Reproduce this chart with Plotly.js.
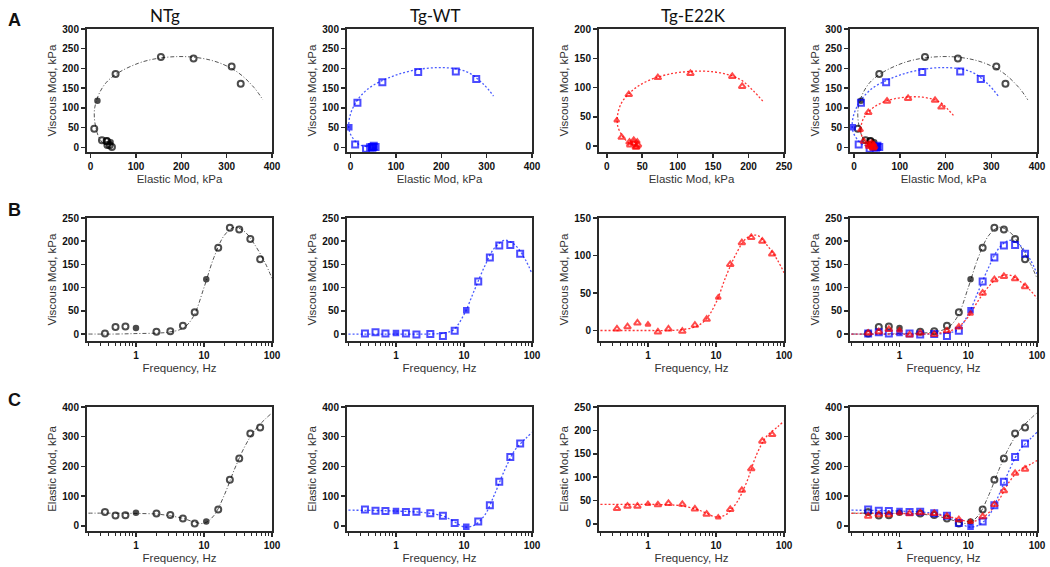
<!DOCTYPE html>
<html><head><meta charset="utf-8">
<script src="https://cdn.plot.ly/plotly-3.0.1.min.js"></script>
<style>html,body{margin:0;padding:0;background:#fff}#chart{width:1050px;height:567px}</style>
</head><body><div id="chart"></div>
<script>
// ---- data ----
const freq = [0.35, 0.5, 0.7, 1, 1.4, 2, 3.2, 4.9, 7.3, 10.8, 16.2, 24, 33, 48, 67];
const filledFreq = [1, 10.8];
const ntgVisc  = [1, 15, 16, 13, null, 5, 6, 18, 47, 118, 186, 229, 225, 205, 161];
const ntgElas  = [47, 35, 36, 44, null, 42, 37, 25, 8, 15, 55, 155, 227, 311, 331];
const wtVisc   = [1, 4, 1, 2, 1, -1, 0, -4, 7, 51, 113, 165, 191, 192, 173];
const wtElas   = [55, 51, 50, 50, 47, 48, 43, 34, 10, -3, 15, 70, 149, 232, 277];
const e22kVisc = [2, 5, 10, 8, -2, 2, -1, 7, 15, 44, 88, 117, 124, 119, 102];
const e22kElas = [33, 38, 38, 43, 41, 44, 42, 32, 21, 14, 31, 72, 118, 177, 191];

// fitted curves
const fitFreq   = [0.2, 0.5, 1, 2, 3, 5, 7, 10, 14, 20, 28, 40, 56, 80, 100];
const ntgFitV   = [0, 0, 1, 2, 4, 13, 38, 100, 165, 213, 230, 220, 192, 152, 120];
const ntgFitE   = [43, 43, 42, 40, 35, 25, 14, 9, 35, 105, 190, 268, 322, 360, 380];
const wtFitV    = [0, 0, 0, 0, 0, 2, 9, 42, 92, 145, 185, 202, 192, 160, 130];
const wtFitE    = [53, 52, 50, 47, 43, 33, 16, -3, 2, 35, 105, 190, 255, 293, 315];
const e22kFitV  = [0, 0, 0, 0, 1, 5, 14, 37, 72, 103, 123, 127, 114, 94, 77];
const e22kFitE  = [42, 42, 42, 41, 39, 32, 24, 15, 20, 45, 88, 150, 188, 207, 220];

const groupNames = ['NTg', 'Tg-WT', 'Tg-E22K'];
const rowLetters = ['A', 'B', 'C'];

// ---- styles ----
const groups = [
  {name:'NTg', visc:ntgVisc, elas:ntgElas, fv:ntgFitV, fe:ntgFitE, color:'#000000', lcolor:'#555555', sym:'circle', dash:'4px,2px,1px,2px', lw:1},
  {name:'Tg-WT', visc:wtVisc, elas:wtElas, fv:wtFitV, fe:wtFitE, color:'#0000ff', lcolor:'#4a5cff', sym:'square', dash:'2px,2px', lw:1.3},
  {name:'Tg-E22K', visc:e22kVisc, elas:e22kElas, fv:e22kFitV, fe:e22kFitE, color:'#ff0000', lcolor:'#ff3535', sym:'triangle-up', dash:'2px,2px', lw:1.3}
];

const colX = [[87,272],[347,532],[599,784],[850,1037]];
const rowY = [[29,152],[218,341],[407,531]];
const W = 1050, H = 567;

const traces = [];
const layout = {
  width: W, height: H, margin:{l:0,r:0,t:0,b:0},
  paper_bgcolor:'#fff', plot_bgcolor:'#fff', showlegend:false,
  annotations: [], font:{family:'Liberation Sans, Arial, sans-serif', color:'#222'}
};

const tickFont = {family:'Liberation Sans, Arial, sans-serif', size:10, weight:700, color:'#111'};
const titleFont = {family:'Liberation Sans, Arial, sans-serif', size:11.5, color:'#333'};

function axBase(){
  return {showline:true, linecolor:'#2a2a2a', linewidth:2, mirror:true, ticks:'outside', ticklen:4,
    tickwidth:1.5, tickcolor:'#2a2a2a', showgrid:false, zeroline:false, tickfont:tickFont, automargin:false, fixedrange:true};
}

function markerFor(g, xs){
  return {
    symbol: xs.map(f => filledFreq.includes(f) ? g.sym : g.sym + '-open'),
    size: xs.map(f => filledFreq.includes(f) ? 4.5 : 6),
    color: g.color,
    line: {color: g.color, width: 2}
  };
}

for (let r = 0; r < 3; r++) {
  for (let c = 0; c < 4; c++) {
    const n = r*4 + c + 1;
    const xa = 'x' + (n===1?'':n), ya = 'y' + (n===1?'':n);
    const xk = 'xaxis' + (n===1?'':n), yk = 'yaxis' + (n===1?'':n);
    const gs = c < 3 ? [groups[c]] : groups;
    const small = (c === 2);
    const X = axBase(), Y = axBase();
    X.domain = [colX[c][0]/W, colX[c][1]/W];
    Y.domain = [1 - rowY[r][1]/H, 1 - rowY[r][0]/H];
    X.anchor = ya; Y.anchor = xa;
    if (r === 0) {
      X.range = small ? [-11, 250] : (c===3 ? [-9, 400] : [-8, 400]);
      X.dtick = small ? 50 : 100; X.tick0 = 0;
      Y.range = small ? [-10, 200] : [-12, 300];
      Y.dtick = 50; Y.tick0 = 0;
      X.title = {text:'Elastic Mod, kPa', font:titleFont, standoff:4};
      Y.title = {text:'Viscous Mod, kPa', font:titleFont, standoff:3};
    } else {
      X.type = 'log';
      X.range = [-0.72, 2];
      X.tickvals = [1, 10, 100]; X.ticktext = ['1','10','100'];
      X.minor = {ticks:'outside', ticklen:2.5, tickwidth:1, tickcolor:'#2a2a2a', tickvals:[0.2,0.3,0.4,0.5,0.6,0.7,0.8,0.9,2,3,4,5,6,7,8,9,20,30,40,50,60,70,80,90]};
      X.title = {text:'Frequency, Hz', font:titleFont, standoff:4};
      if (r === 1) {
        Y.range = small ? [-14, 150] : [-15, 250];
        Y.dtick = 50; Y.tick0 = 0;
        Y.title = {text:'Viscous Mod, kPa', font:titleFont, standoff:3};
      } else {
        Y.range = small ? [-15, 250] : [-17, 400];
        Y.dtick = small ? 50 : 100; Y.tick0 = 0;
        Y.title = {text:'Elastic Mod, kPa', font:titleFont, standoff:3};
      }
    }
    layout[xk] = X; layout[yk] = Y;

    // fit lines first
    gs.forEach(g => {
      let lx, ly;
      if (r === 0) { lx = g.fe; ly = g.fv; }
      else if (r === 1) { lx = fitFreq; ly = g.fv; }
      else { lx = fitFreq; ly = g.fe; }
      traces.push({x:lx, y:ly, xaxis:xa, yaxis:ya, type:'scatter', mode:'lines',
        line:{color:g.lcolor, width:g.lw, dash:g.dash, shape:'spline', smoothing:1}, hoverinfo:'skip', cliponaxis:true});
    });
    gs.forEach(g => {
      let px, py;
      if (r === 0) { px = g.elas; py = g.visc; }
      else if (r === 1) { px = freq; py = g.visc; }
      else { px = freq; py = g.elas; }
      traces.push({x:px, y:py, xaxis:xa, yaxis:ya, type:'scatter', mode:'markers',
        marker: markerFor(g, freq), cliponaxis:false});
    });
  }
}

// column titles
const titleX = [165, 435, 693];
groupNames.forEach((t, i) => {
  layout.annotations.push({text:t, xref:'paper', yref:'paper', x:titleX[i]/W, y:1-15/H,
    xanchor:'center', yanchor:'middle', showarrow:false, font:{family:'Lato, Open Sans, sans-serif', size:17, color:'#111'}});
});
// row letters
const letterY = [20, 210, 400];
rowLetters.forEach((t, i) => {
  layout.annotations.push({text:t, xref:'paper', yref:'paper', x:14/W, y:1-letterY[i]/H,
    xanchor:'center', yanchor:'middle', showarrow:false, font:{family:'Liberation Sans, Arial, sans-serif', size:18, weight:700, color:'#111'}});
});

Plotly.newPlot('chart', traces, layout, {staticPlot:true, displayModeBar:false});
</script>
</body></html>
